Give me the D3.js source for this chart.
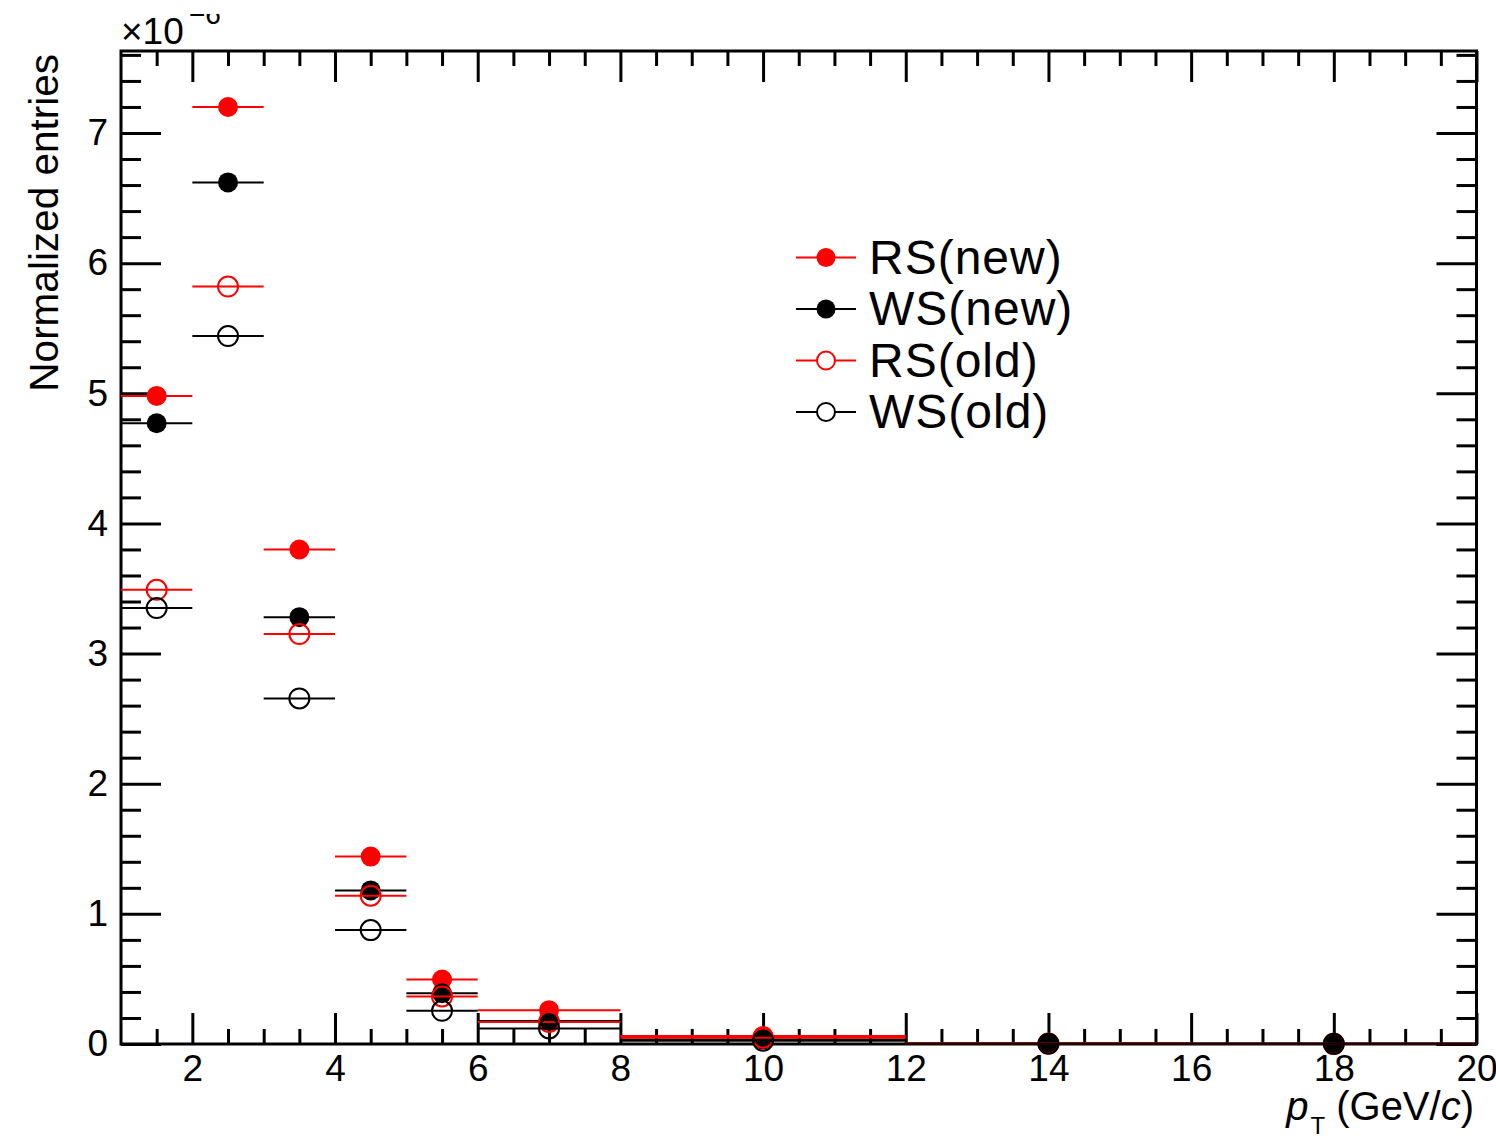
<!DOCTYPE html>
<html>
<head>
<meta charset="utf-8">
<script src="https://cdn.jsdelivr.net/npm/d3@7"></script>
<style>
  html, body { margin: 0; padding: 0; background: #fff; }
  svg { display: block; font-family: "Liberation Sans", Arial, Helvetica, sans-serif; }
</style>
</head>
<body>
<svg id="chart" width="1496" height="1138"></svg>
<script>
// pT bins (GeV/c) and bin centres
const binLow    = [1, 2, 3, 4, 5, 6, 8, 12, 16];
const binHigh   = [2, 3, 4, 5, 6, 8, 12, 16, 20];
const binCenter = [1.5, 2.5, 3.5, 4.5, 5.5, 7, 10, 14, 18];

// normalized entries, in units of 1e-6
const rsNew = [4.98, 7.20, 3.80, 1.44, 0.496, 0.26, 0.062, 0.006, 0.002];
const wsNew = [4.77, 6.62, 3.28, 1.18, 0.39, 0.176, 0.035, 0.003, 0.001];
const rsOld = [3.49, 5.82, 3.15, 1.14, 0.365, 0.17, 0.048, 0.004, 0.001];
const wsOld = [3.35, 5.44, 2.655, 0.875, 0.255, 0.12, 0.025, 0.002, 0.001];

const seriesNames = ["RS(new)", "WS(new)", "RS(old)", "WS(old)"];

const xMajorTicks = [2, 4, 6, 8, 10, 12, 14, 16, 18, 20];
const yMajorTicks = [0, 1, 2, 3, 4, 5, 6, 7];

const series = [
  { name: seriesNames[0], values: rsNew, color: "#ff0000", filled: true },
  { name: seriesNames[1], values: wsNew, color: "#000000", filled: true },
  { name: seriesNames[2], values: rsOld, color: "#ff0000", filled: false },
  { name: seriesNames[3], values: wsOld, color: "#000000", filled: false }
];

const svg = d3.select("#chart");
const padL = 121, padR = 1476.5, padT = 51, padB = 1044;

const x = d3.scaleLinear().domain([1, 20]).range([padL, padR]);
const y = d3.scaleLinear().domain([0, 7.63]).range([padB, padT]);

const xMinor = d3.range(1.5, 20, 0.5).filter(v => !xMajorTicks.includes(v));
const yMinor = d3.range(0, 7.63, 0.2).map(v => +v.toFixed(2)).filter(v => !yMajorTicks.includes(v));

const tickStyle = g => {
  g.select(".domain").remove();
  g.selectAll(".tick line").attr("stroke", "#000").attr("stroke-width", 3);
};

// bottom axis with labels
svg.append("g").attr("transform", `translate(0,${padB})`)
  .call(d3.axisBottom(x).tickValues(xMajorTicks).tickSize(-31).tickPadding(14).tickFormat(d3.format("d")))
  .call(tickStyle)
  .call(g => g.selectAll("text").attr("font-size", 37).attr("fill", "#000")
    .attr("font-family", "'Liberation Sans', Arial, sans-serif").attr("dy", "0.98em")
    .attr("y", 1));
svg.append("g").attr("transform", `translate(0,${padB})`)
  .call(d3.axisBottom(x).tickValues(xMinor).tickSize(-15).tickFormat(""))
  .call(tickStyle);
// top axis ticks
svg.append("g").attr("transform", `translate(0,${padT})`)
  .call(d3.axisTop(x).tickValues(xMajorTicks).tickSize(-31).tickFormat(""))
  .call(tickStyle);
svg.append("g").attr("transform", `translate(0,${padT})`)
  .call(d3.axisTop(x).tickValues(xMinor).tickSize(-15).tickFormat(""))
  .call(tickStyle);

// left axis with labels
svg.append("g").attr("transform", `translate(${padL},0)`)
  .call(d3.axisLeft(y).tickValues(yMajorTicks).tickSize(-40).tickPadding(14).tickFormat(d3.format("d")))
  .call(tickStyle)
  .call(g => g.selectAll("text").attr("font-size", 37).attr("fill", "#000")
    .attr("font-family", "'Liberation Sans', Arial, sans-serif").attr("x", -13));
svg.append("g").attr("transform", `translate(${padL},0)`)
  .call(d3.axisLeft(y).tickValues(yMinor).tickSize(-20).tickFormat(""))
  .call(tickStyle);
// right axis ticks
svg.append("g").attr("transform", `translate(${padR},0)`)
  .call(d3.axisRight(y).tickValues(yMajorTicks).tickSize(-40).tickFormat(""))
  .call(tickStyle);
svg.append("g").attr("transform", `translate(${padR},0)`)
  .call(d3.axisRight(y).tickValues(yMinor).tickSize(-20).tickFormat(""))
  .call(tickStyle);

// frame
svg.append("rect")
  .attr("x", padL).attr("y", padT)
  .attr("width", padR - padL).attr("height", padB - padT)
  .attr("fill", "none").attr("stroke", "#000").attr("stroke-width", 3);

// data: horizontal bin-width bars plus circle markers
const plot = svg.append("g");
series.forEach(s => {
  const g = plot.append("g");
  g.selectAll("line").data(s.values).join("line")
    .attr("x1", (d, i) => x(binLow[i]))
    .attr("x2", (d, i) => x(binHigh[i]))
    .attr("y1", d => y(d)).attr("y2", d => y(d))
    .attr("stroke", s.color).attr("stroke-width", 2);
  g.selectAll("circle").data(s.values).join("circle")
    .attr("cx", (d, i) => x(binCenter[i]))
    .attr("cy", d => y(d))
    .attr("r", 10)
    .attr("fill", s.filled ? s.color : "none")
    .attr("stroke", s.color)
    .attr("stroke-width", s.filled ? 0 : 2);
});

// legend
const legend = svg.append("g");
series.forEach((s, i) => {
  const cy = 257.5 + i * 51.5;
  legend.append("line").attr("x1", 796).attr("x2", 856).attr("y1", cy).attr("y2", cy)
    .attr("stroke", s.color).attr("stroke-width", 2);
  legend.append("circle").attr("cx", 826).attr("cy", cy)
    .attr("r", s.filled ? 9.5 : 9)
    .attr("fill", s.filled ? s.color : "#fff")
    .attr("stroke", s.color).attr("stroke-width", s.filled ? 0 : 2);
  legend.append("text").attr("x", 869).attr("y", cy + 16)
    .attr("font-size", 48).attr("letter-spacing", 1).attr("fill", "#000").text(s.name);
});

// axis titles
svg.append("text")
  .attr("transform", "translate(58,54) rotate(-90)")
  .attr("text-anchor", "end").attr("font-size", 40.5).attr("fill", "#000")
  .text("Normalized entries");

const xt = svg.append("text").attr("x", 1474).attr("y", 1120)
  .attr("text-anchor", "end").attr("font-size", 40).attr("fill", "#000");
xt.append("tspan").attr("font-style", "italic").text("p");
xt.append("tspan").attr("font-size", 24).attr("dx", 2).attr("dy", 14).text("T");
xt.append("tspan").attr("dy", -14).text("  (GeV/");
xt.append("tspan").attr("font-style", "italic").text("c");
xt.append("tspan").text(")");

// exponent label
svg.append("defs").append("clipPath").attr("id", "expClip")
  .append("rect").attr("x", 0).attr("y", 14).attr("width", 400).attr("height", 60);
svg.append("text").attr("x", 121).attr("y", 44)
  .attr("font-size", 37).attr("fill", "#000").text("\u00d710");
svg.append("text").attr("x", 189).attr("y", 23.5).attr("font-size", 28).attr("fill", "#000")
  .attr("clip-path", "url(#expClip)").text("\u22126");
</script>
</body>
</html>
